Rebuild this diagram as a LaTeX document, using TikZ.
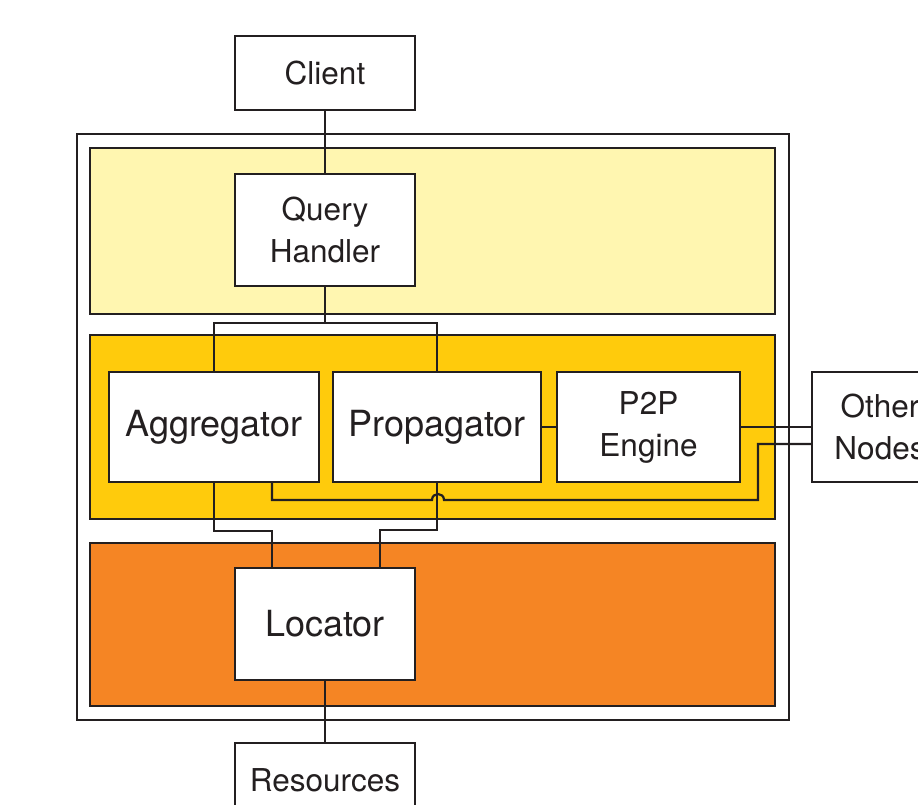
\documentclass[tikz,border=0pt]{standalone}
\usepackage{fontspec}
\setmainfont{TeX Gyre Heros}
\definecolor{ink}{HTML}{231F20}
\definecolor{paleband}{HTML}{FFF6B0}
\definecolor{goldband}{HTML}{FFCB0C}
\definecolor{orangeband}{HTML}{F58524}
\tikzset{
  wire/.style={draw=ink, line width=2.2pt},
  band/.style={draw=ink, line width=2.4pt},
  box/.style={draw=ink, line width=2.2pt, fill=white, text=ink, align=center,
    inner sep=0pt, font=\fontsize{31.5}{42}\selectfont},
  bigbox/.style={box, font=\fontsize{36}{42}\selectfont},
}
\begin{document}
\begin{tikzpicture}[x=1pt, y=-1pt]
  \useasboundingbox (0,0) rectangle (918,804);
  \clip (0,0) rectangle (918,804);

  % container and the three layers
  \draw[band, fill=white] (77,134) rectangle (789,720);
  \draw[band, fill=paleband] (90,148) rectangle (775,314);
  \draw[band, fill=goldband] (90,335) rectangle (775,519);
  \draw[band, fill=orangeband] (90,543) rectangle (775,706);

  % components
  \node[box, minimum width=180pt, minimum height=74pt] (client) at (325,73) {Client};
  \node[box, minimum width=180pt, minimum height=112pt] (qh) at (325,230) {Query\\Handler};
  \node[bigbox, minimum width=210pt, minimum height=110pt] (agg) at (214,427) {Aggregator};
  \node[bigbox, minimum width=208pt, minimum height=110pt] (prop) at (437,427) {Propagator};
  \node[box, minimum width=183pt, minimum height=110pt] (p2p) at (648.5,427) {P2P\\Engine};
  \node[box, minimum width=136pt, minimum height=110pt] (other) at (880,427) {Other\\Nodes};
  \node[bigbox, minimum width=180pt, minimum height=112pt] (loc) at (325,624) {Locator};
  \node[box, minimum width=180pt, minimum height=74pt] (res) at (325,780) {Resources};

  % query path
  \coordinate (split) at (325,323);
  \draw[wire] (client) -- (qh);
  \draw[wire] (qh.south) -- (split) -| (agg.north);
  \draw[wire] (split) -| (prop.north);

  % peer links
  \draw[wire] (prop.east) -- (p2p.west);
  \draw[wire] (p2p.east) -- (other.west);
  \coordinate (aggtap) at ([xshift=58pt]agg.south);
  \coordinate (hopL) at (432,500);
  \coordinate (hopR) at (444,500);
  \coordinate (turn) at (758,500);
  \coordinate (otherlow) at ([yshift=-17pt]other.west);
  \draw[wire] (aggtap) -- (aggtap |- hopL) -- (hopL)
    .. controls (432,492) and (444,492) .. (hopR)
    -- (turn) -- (turn |- otherlow) -- (otherlow);

  % links to the locator
  \coordinate (locL) at ([xshift=-53pt]loc.north);
  \coordinate (locR) at ([xshift=55pt]loc.north);
  \draw[wire] (agg.south) -- ++(0,48) -| (locL);
  \draw[wire] (prop.south) -- ++(0,47) -| (locR);
  \draw[wire] (loc) -- (res);
\end{tikzpicture}
\end{document}
